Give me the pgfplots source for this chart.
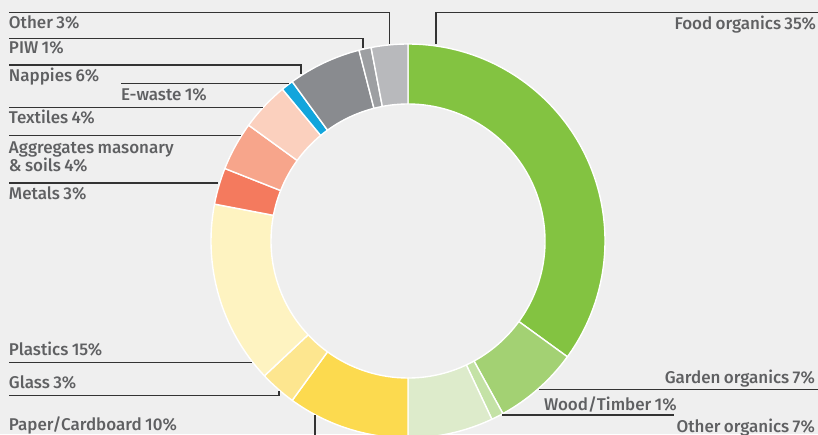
\documentclass[border=0pt]{standalone}
\usepackage{pgfplots}
\usepackage{pgfplotstable}
\pgfplotsset{compat=1.18}
\usepackage{fontspec}
\setmainfont{Fira Sans}[UprightFont=* Medium, WordSpace=0.8]
\definecolor{bg}{HTML}{EFEFEF}
\definecolor{txt}{HTML}{5F6062}
\definecolor{ln}{HTML}{333333}
\definecolor{cfood}{HTML}{83C341}
\definecolor{cgarden}{HTML}{A3D173}
\definecolor{cwood}{HTML}{C4E2A6}
\definecolor{cotherorg}{HTML}{DDEBCB}
\definecolor{cpaper}{HTML}{FCDA4F}
\definecolor{cglass}{HTML}{FDE68F}
\definecolor{cplastics}{HTML}{FEF3C1}
\definecolor{cmetals}{HTML}{F47A5E}
\definecolor{caggr}{HTML}{F7A58B}
\definecolor{ctextiles}{HTML}{FBD0BE}
\definecolor{cewaste}{HTML}{12A5DC}
\definecolor{cnappies}{HTML}{898B8F}
\definecolor{cpiw}{HTML}{9D9FA2}
\definecolor{cother}{HTML}{B8B9BC}
\pgfplotstableread{
name value col
Food 35 cfood
Garden 7 cgarden
Wood 1 cwood
OtherOrg 7 cotherorg
Paper 10 cpaper
Glass 3 cglass
Plastics 15 cplastics
Metals 3 cmetals
Aggregates 4 caggr
Textiles 4 ctextiles
Ewaste 1 cewaste
Nappies 6 cnappies
PIW 1 cpiw
Other 3 cother
}\wastedata
\tikzset{lab/.style={font=\fontsize{8.5pt}{9pt}\selectfont, text=txt, inner sep=0pt, outer sep=0pt}}
\begin{document}
\begin{tikzpicture}
\useasboundingbox (0,0) rectangle (409pt,217pt);
\clip (0,0) rectangle (409pt,217pt);
\fill[bg] (0,0) rectangle (409pt,217pt);
\begin{axis}[
  at={(0,0)}, anchor=south west,
  scale only axis, width=409pt, height=217pt,
  xmin=0, xmax=818, ymin=-434, ymax=0,
  hide axis, clip=false,
]
\pgfplotstablegetrowsof{\wastedata}
\pgfmathtruncatemacro\N{\pgfplotsretval-1}
\def\cum{0}
\pgfplotsforeachungrouped \i in {0,...,\N}{%
  \pgfplotstablegetelem{\i}{value}\of\wastedata
  \let\v\pgfplotsretval
  \pgfplotstablegetelem{\i}{col}\of\wastedata
  \let\c\pgfplotsretval
  \pgfmathsetmacro\aS{90-3.6*\cum}%
  \pgfmathsetmacro\aE{90-3.6*(\cum+\v)}%
  \edef\temp{\noexpand\filldraw[fill=\c, draw=white, line width=0.7pt, line join=round, shift={(axis cs:408,-241)}]
    (\aS:98.5pt) arc[start angle=\aS, end angle=\aE, radius=98.5pt]
    -- (\aE:68.5pt) arc[start angle=\aE, end angle=\aS, radius=68.5pt] -- cycle;}%
  \temp
  \pgfmathsetmacro\cum{\cum+\v}%
}
% leader lines
\begin{scope}[draw=ln, line width=0.6pt]
\draw (axis cs:9,-12.7) -- (axis cs:389.5,-12.7) -- (axis cs:389.5,-44);
\draw (axis cs:9,-38.3) -- (axis cs:363,-38.3) -- (axis cs:363,-48);
\draw (axis cs:9,-65) -- (axis cs:301,-65) -- (axis cs:301,-74);
\draw (axis cs:121,-83.3) -- (axis cs:289,-83.3);
\draw (axis cs:9,-107.3) -- (axis cs:263,-107.3);
\draw (axis cs:9,-135.7) -- (axis cs:241,-135.7);
\draw (axis cs:9,-183) -- (axis cs:218,-183);
\draw (axis cs:9,-362.3) -- (axis cs:252,-362.3);
\draw (axis cs:9,-395.7) -- (axis cs:279,-395.7) -- (axis cs:279,-391);
\draw (axis cs:315,-415) -- (axis cs:315,-436);
\draw (axis cs:820,-12.3) -- (axis cs:436,-12.3) -- (axis cs:436,-44);
\draw (axis cs:539,-389.3) -- (axis cs:820,-389.3);
\draw (axis cs:502,-415) -- (axis cs:674,-415);
\end{scope}
% labels
\node[lab, anchor=base west] at (axis cs:9,-29) {Other 3\%};
\node[lab, anchor=base west] at (axis cs:9,-54) {PIW 1\%};
\node[lab, anchor=base west] at (axis cs:9,-82) {Nappies 6\%};
\node[lab, anchor=base west] at (axis cs:121,-100) {E-waste 1\%};
\node[lab, anchor=base west] at (axis cs:9,-123) {Textiles 4\%};
\node[lab, anchor=base west] at (axis cs:9,-153) {Aggregates masonary};
\node[lab, anchor=base west] at (axis cs:9,-171) {\& soils 4\%};
\node[lab, anchor=base west] at (axis cs:9,-199) {Metals 3\%};
\node[lab, anchor=base west] at (axis cs:9,-355) {Plastics 15\%};
\node[lab, anchor=base west] at (axis cs:9,-388) {Glass 3\%};
\node[lab, anchor=base west] at (axis cs:9,-430) {Paper/Cardboard 10\%};
\node[lab, anchor=base east] at (axis cs:816,-30) {Food organics 35\%};
\node[lab, anchor=base east] at (axis cs:815,-383) {Garden organics 7\%};
\node[lab, anchor=base west] at (axis cs:544,-410) {Wood/Timber 1\%};
\node[lab, anchor=base east] at (axis cs:815,-432) {Other organics 7\%};
\end{axis}
\end{tikzpicture}
\end{document}
